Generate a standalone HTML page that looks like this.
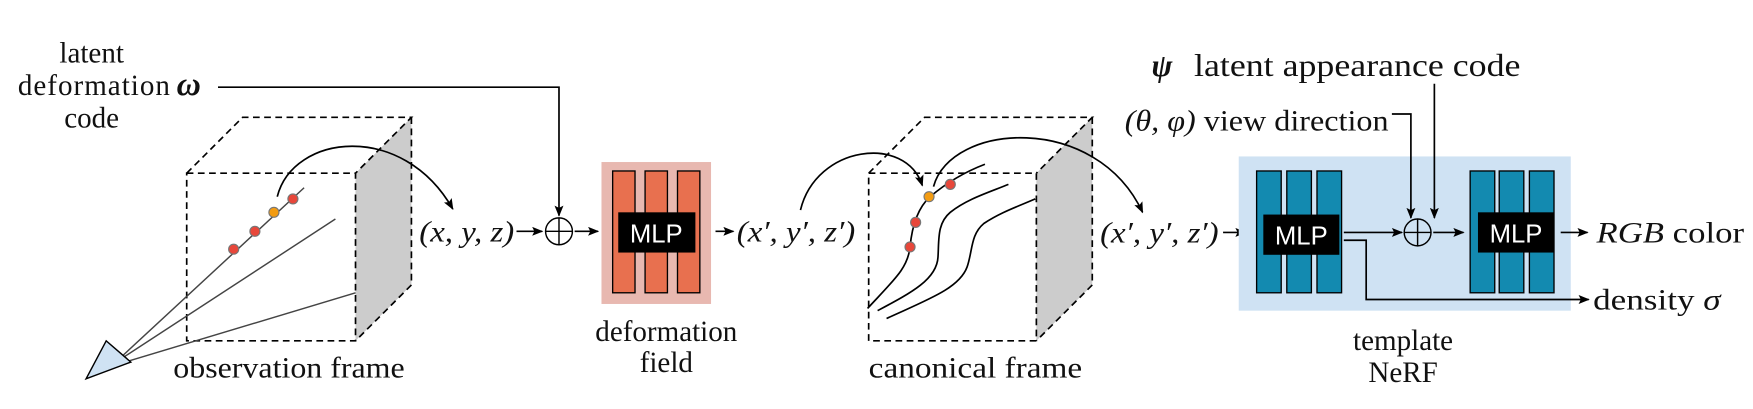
<!DOCTYPE html>
<html><head><meta charset="utf-8"><style>
html,body{margin:0;padding:0;background:#fff;width:1753px;height:409px;overflow:hidden}
svg{display:block}
text{font-family:"Liberation Serif",serif;fill:#111}
.mlp{font-family:"Liberation Sans",sans-serif;fill:#fff;font-size:23px}
</style></head><body>
<svg width="1753" height="409" viewBox="0 0 1568 366" preserveAspectRatio="none" xmlns="http://www.w3.org/2000/svg">
<defs><marker id="a" markerWidth="10" markerHeight="8" refX="9" refY="4" orient="auto" markerUnits="userSpaceOnUse"><path d="M0,0 L10,4 L0,8 L2,4z" fill="#000"/></marker></defs>
<g font-size="26">
<text x="82" y="56" text-anchor="middle">latent</text>
<text x="16" y="85" textLength="136" lengthAdjust="spacing">deformation</text>
<text x="158" y="85" font-size="30" font-weight="bold" font-style="italic">ω</text>
<text x="82" y="114" text-anchor="middle">code</text>
</g>
<polyline points="195,78 500,78 500,193" fill="none" stroke="#000" stroke-width="1.5" marker-end="url(#a)"/>
<polygon points="318,155 368,105 368,255 318,305" fill="#ccc"/>
<g fill="none" stroke="#000" stroke-width="1.5" stroke-dasharray="6,4">
<rect x="167" y="155" width="151" height="150"/>
<polyline points="167,155 217,105 368,105 318,155"/>
<polyline points="368,105 368,255 318,305"/>
</g>
<g stroke="#444" stroke-width="1.3">
<line x1="110" y1="318" x2="272" y2="168"/>
<line x1="110" y1="320" x2="300" y2="196"/>
<line x1="112" y1="324" x2="318" y2="262"/>
</g>
<polygon points="77,339 95,305 117,324" fill="#cfe2f3" stroke="#000" stroke-width="1.3"/>
<g stroke="#777" stroke-width="1">
<circle cx="209" cy="223" r="4.5" fill="#e8473a"/><circle cx="228" cy="207" r="4.5" fill="#e8473a"/>
<circle cx="245" cy="190" r="4.5" fill="#f39c12"/><circle cx="262" cy="178" r="4.5" fill="#e8473a"/>
</g>
<path d="M248,176 C262,120 360,108 405,187" fill="none" stroke="#000" stroke-width="1.5" marker-end="url(#a)"/>
<text x="375" y="216" font-size="26" font-style="italic" textLength="85" lengthAdjust="spacingAndGlyphs">(x, y, z)</text>
<line x1="462" y1="207" x2="485" y2="207" stroke="#000" stroke-width="1.5" marker-end="url(#a)"/>
<circle cx="500" cy="207" r="12" fill="none" stroke="#000" stroke-width="1.3"/>
<path d="M488,207 H512 M500,195 V219" stroke="#000" stroke-width="1.3"/>
<line x1="514" y1="207" x2="535" y2="207" stroke="#000" stroke-width="1.5" marker-end="url(#a)"/>
<rect x="538" y="145" width="98" height="127" fill="#e8b8b0"/>
<g fill="#e8704f" stroke="#000" stroke-width="1.2"><rect x="548" y="153" width="20" height="109"/><rect x="577" y="153" width="20" height="109"/><rect x="606" y="153" width="20" height="109"/></g>
<rect x="553" y="190" width="69" height="36" fill="#000"/><text class="mlp" x="587" y="217" text-anchor="middle">MLP</text>
<text x="596" y="305" font-size="26" text-anchor="middle">deformation</text>
<text x="596" y="333" font-size="26" text-anchor="middle">field</text>
<line x1="640" y1="207" x2="656" y2="207" stroke="#000" stroke-width="1.5" marker-end="url(#a)"/>
<text x="659" y="216" font-size="26" font-style="italic" textLength="106" lengthAdjust="spacingAndGlyphs">(x′, y′, z′)</text>
<polygon points="927,155 977,105 977,255 927,305" fill="#ccc"/>
<g fill="none" stroke="#000" stroke-width="1.5" stroke-dasharray="6,4">
<rect x="777" y="155" width="150" height="150"/>
<polyline points="777,155 827,105 977,105 927,155"/>
<polyline points="977,105 977,255 927,305"/>
</g>
<g fill="none" stroke="#000" stroke-width="1.5">
<path d="M776,276 C800,250 812,240 814,221 C816,200 822,185 832,176 C845,165 860,155 881,147"/>
<path d="M785,278 C815,262 838,250 839,230 C840,215 838,200 850,190 C865,178 885,172 902,165"/>
<path d="M793,285 C830,268 858,258 865,239 C870,225 868,210 880,200 C895,190 910,185 926,178"/>
</g>
<g stroke="#777" stroke-width="1">
<circle cx="814" cy="221" r="4.5" fill="#e8473a"/><circle cx="819" cy="199" r="4.5" fill="#e8473a"/>
<circle cx="831" cy="176" r="4.5" fill="#f39c12"/><circle cx="850" cy="165" r="4.5" fill="#e8473a"/>
</g>
<path d="M716,188 C730,130 810,120 825,166" fill="none" stroke="#000" stroke-width="1.5" marker-end="url(#a)"/>
<path d="M835,167 C850,110 980,100 1022,190" fill="none" stroke="#000" stroke-width="1.5" marker-end="url(#a)"/>
<text x="984" y="217" font-size="26" font-style="italic" textLength="106" lengthAdjust="spacingAndGlyphs">(x′, y′, z′)</text>
<line x1="1094" y1="208" x2="1114" y2="208" stroke="#000" stroke-width="1.5" marker-end="url(#a)"/>
<rect x="1108" y="140" width="297" height="138" fill="#cfe2f3"/>
<g fill="#138ab0" stroke="#000" stroke-width="1.2">
<rect x="1124" y="153" width="22" height="109"/><rect x="1151" y="153" width="22" height="109"/><rect x="1178" y="153" width="22" height="109"/>
<rect x="1315" y="153" width="22" height="109"/><rect x="1341" y="153" width="22" height="109"/><rect x="1368" y="153" width="22" height="109"/>
</g>
<rect x="1130" y="192" width="68" height="36" fill="#000"/><text class="mlp" x="1164" y="219" text-anchor="middle">MLP</text>
<rect x="1322" y="190" width="68" height="36" fill="#000"/><text class="mlp" x="1356" y="217" text-anchor="middle">MLP</text>
<line x1="1202" y1="208" x2="1254" y2="208" stroke="#000" stroke-width="1.5" marker-end="url(#a)"/>
<polyline points="1202,215 1222,215 1222,268 1421,268" fill="none" stroke="#000" stroke-width="1.5" marker-end="url(#a)"/>
<circle cx="1268" cy="208" r="12" fill="none" stroke="#000" stroke-width="1.3"/>
<path d="M1256,208 H1280 M1268,196 V220" stroke="#000" stroke-width="1.3"/>
<line x1="1282" y1="208" x2="1309" y2="208" stroke="#000" stroke-width="1.5" marker-end="url(#a)"/>
<line x1="1396" y1="208" x2="1420" y2="208" stroke="#000" stroke-width="1.5" marker-end="url(#a)"/>
<text x="1428" y="217" font-size="26" textLength="132" lengthAdjust="spacingAndGlyphs"><tspan font-style="italic">RGB</tspan> color</text>
<text x="1425" y="277" font-size="26" textLength="114" lengthAdjust="spacingAndGlyphs">density <tspan font-style="italic">σ</tspan></text>
<text x="1030" y="68" font-size="28" font-weight="bold" font-style="italic">ψ</text>
<text x="1068" y="68" font-size="28" textLength="292" lengthAdjust="spacingAndGlyphs">latent appearance code</text>
<line x1="1283" y1="75" x2="1283" y2="195" stroke="#000" stroke-width="1.5" marker-end="url(#a)"/>
<text x="1006" y="117" font-size="26" textLength="236" lengthAdjust="spacingAndGlyphs"><tspan font-style="italic">(θ, φ)</tspan> view direction</text>
<polyline points="1245,102 1262,102 1262,195" fill="none" stroke="#000" stroke-width="1.5" marker-end="url(#a)"/>
<text x="1255" y="313" font-size="26" text-anchor="middle">template</text>
<text x="1255" y="342" font-size="26" text-anchor="middle">NeRF</text>
<text x="155" y="338" font-size="26" textLength="207" lengthAdjust="spacingAndGlyphs">observation frame</text>
<text x="777" y="338" font-size="26" textLength="191" lengthAdjust="spacingAndGlyphs">canonical frame</text>
</svg>
</body></html>
